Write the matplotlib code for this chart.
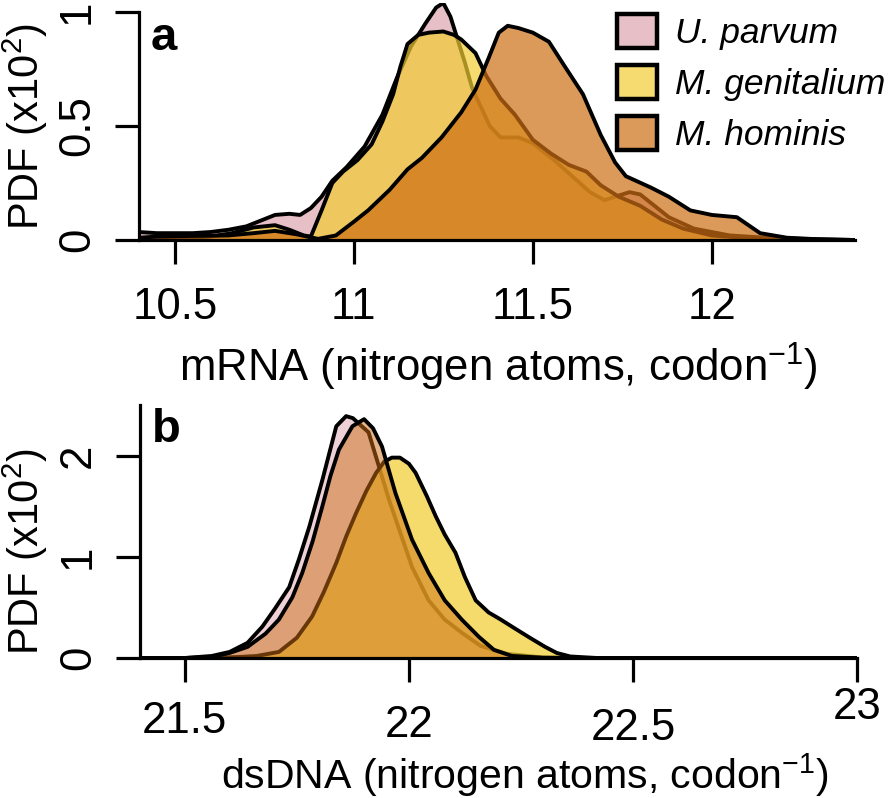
import matplotlib
matplotlib.use("Agg")
import matplotlib.pyplot as plt
from matplotlib.patches import Patch
from matplotlib import transforms

plt.rcParams['font.family'] = ['Liberation Sans', 'DejaVu Sans']

# ---------------- data ----------------
species = ["U. parvum", "M. genitalium", "M. hominis"]
colors = ["#dea5b0", "#f1cd33", "#ce6f14"]

# panel a: mRNA
mrna_up_x = [10.40, 10.45, 10.50, 10.55, 10.60, 10.65, 10.70, 10.74, 10.78, 10.82, 10.85, 10.88, 10.91, 10.94,
             10.98, 11.03, 11.08, 11.12, 11.16, 11.20, 11.23, 11.25, 11.27, 11.29, 11.31, 11.33, 11.35, 11.38,
             11.41, 11.46, 11.50, 11.56, 11.61, 11.66, 11.70, 11.73, 11.77, 11.80, 11.84, 11.88, 11.95, 12.05,
             12.15, 12.25, 12.40]
mrna_up_y = [0.035, 0.03, 0.03, 0.03, 0.035, 0.045, 0.06, 0.085, 0.11, 0.115, 0.11, 0.14, 0.19, 0.26,
             0.32, 0.41, 0.55, 0.71, 0.85, 0.95, 1.02, 1.04, 0.98, 0.88, 0.78, 0.67, 0.60, 0.50,
             0.45, 0.45, 0.425, 0.35, 0.28, 0.21, 0.175, 0.19, 0.21, 0.20, 0.15, 0.10, 0.05, 0.02,
             0.01, 0.005, 0.0]
mrna_mg_x = [10.40, 10.50, 10.60, 10.66, 10.72, 10.78, 10.82, 10.86, 10.88, 10.91, 10.94, 10.97, 11.01, 11.05,
             11.08, 11.11, 11.13, 11.15, 11.18, 11.21, 11.25, 11.28, 11.30, 11.34, 11.37, 11.41, 11.45, 11.50,
             11.55, 11.60, 11.65, 11.69, 11.74, 11.80, 11.86, 11.92, 12.00, 12.10, 12.25, 12.40]
mrna_mg_y = [0.0, 0.005, 0.015, 0.03, 0.055, 0.065, 0.045, 0.02, 0.015, 0.13, 0.25, 0.30, 0.35, 0.42,
             0.52, 0.64, 0.76, 0.86, 0.90, 0.91, 0.915, 0.90, 0.88, 0.82, 0.72, 0.62, 0.55, 0.44,
             0.38, 0.33, 0.30, 0.24, 0.19, 0.15, 0.09, 0.05, 0.02, 0.008, 0.0, 0.0]
mrna_mh_x = [10.40, 10.45, 10.55, 10.65, 10.72, 10.78, 10.84, 10.90, 10.95, 11.00, 11.04, 11.10, 11.15, 11.19,
             11.245, 11.30, 11.34, 11.377, 11.405, 11.43, 11.46, 11.50, 11.545, 11.59, 11.64, 11.69, 11.73,
             11.76, 11.83, 11.88, 11.94, 12.00, 12.07, 12.135, 12.21, 12.30, 12.40]
mrna_mh_y = [0.01, 0.015, 0.018, 0.02, 0.03, 0.04, 0.025, 0.005, 0.02, 0.08, 0.13, 0.22, 0.31, 0.36,
             0.45, 0.56, 0.66, 0.80, 0.91, 0.94, 0.93, 0.91, 0.87, 0.76, 0.64, 0.46, 0.34,
             0.28, 0.23, 0.19, 0.13, 0.11, 0.10, 0.03, 0.01, 0.003, 0.0]

# panel b: dsDNA
dna_up_x = [21.40, 21.50, 21.56, 21.60, 21.64, 21.673, 21.70, 21.733, 21.755, 21.778, 21.807, 21.838, 21.86,
            21.875, 21.91, 21.956, 22.007, 22.044, 22.08, 22.118, 22.16, 22.22, 22.30, 22.40, 23.00]
dna_up_y = [0.0, 0.0, 0.02, 0.06, 0.15, 0.31, 0.48, 0.70, 0.98, 1.30, 1.76, 2.29, 2.39,
            2.37, 2.23, 1.56, 0.90, 0.57, 0.38, 0.25, 0.12, 0.04, 0.005, 0.0, 0.0]
dna_mg_x = [21.40, 21.55, 21.62, 21.66, 21.71, 21.75, 21.784, 21.81, 21.838, 21.86, 21.882, 21.905, 21.927,
            21.945, 21.962, 21.98, 22.00, 22.015, 22.04, 22.06, 22.08, 22.104, 22.125, 22.149, 22.178, 22.205,
            22.23, 22.27, 22.304, 22.33, 22.36, 22.42, 23.00]
dna_mg_y = [0.0, 0.0, 0.01, 0.02, 0.06, 0.20, 0.41, 0.65, 0.94, 1.20, 1.43, 1.65, 1.83,
            1.94, 1.98, 1.98, 1.92, 1.83, 1.60, 1.40, 1.22, 1.04, 0.80, 0.57, 0.45, 0.38,
            0.31, 0.20, 0.11, 0.05, 0.015, 0.0, 0.0]
dna_mh_x = [21.40, 21.50, 21.56, 21.60, 21.64, 21.68, 21.71, 21.74, 21.762, 21.785, 21.807, 21.825, 21.844,
            21.874, 21.90, 21.92, 21.94, 21.97, 22.007, 22.044, 22.08, 22.118, 22.156, 22.19, 22.23, 22.30,
            22.40, 23.00]
dna_mh_y = [0.0, 0.0, 0.01, 0.05, 0.11, 0.24, 0.38, 0.60, 0.84, 1.15, 1.50, 1.80, 2.06,
            2.29, 2.36, 2.27, 2.09, 1.63, 1.17, 0.84, 0.57, 0.38, 0.21, 0.08, 0.02, 0.003,
            0.0, 0.0]

mrna_ticks = [10.5, 11, 11.5, 12]
mrna_ticklabels = ["10.5", "11", "11.5", "12"]
mrna_yticks = [0, 0.5, 1]
mrna_yticklabels = ["0", "0.5", "1"]
dna_ticks = [21.5, 22, 22.5, 23]
dna_ticklabels = ["21.5", "22", "22.5", "23"]
dna_yticks = [0, 1, 2]
dna_yticklabels = ["0", "1", "2"]

W, H = 893, 798
fig = plt.figure(figsize=(W / 100, H / 100), dpi=100)
FS = 31.5
LW = 2.3
CLW = 2.8


def px2fig(x, y):
    return x / W, 1 - y / H


def style(ax, ybounds):
    for s in ["top", "right"]:
        ax.spines[s].set_visible(False)
    for s in ["left", "bottom"]:
        ax.spines[s].set_linewidth(LW)
        ax.spines[s].set_zorder(20)
        ax.spines[s].set_capstyle("projecting")
    ax.spines["left"].set_bounds(*ybounds)
    ax.tick_params(direction="out", length=17.5, width=LW, labelsize=FS)
    ax.tick_params(axis="y", pad=12)
    ax.tick_params(axis="x", pad=16)


def draw(ax, xs, ys, alphas, order):
    z = 1
    for i in order:
        x, y = xs[i], ys[i]
        ax.fill_between(x, 0, y, facecolor=colors[i], alpha=alphas[i], lw=0, zorder=z)
        ax.plot(x, y, color="black", lw=CLW, zorder=z + 1, solid_joinstyle="round",
                solid_capstyle="round")
        z += 2


# ---- panel a ----
ax1 = fig.add_axes([139 / W, 1 - 240 / H, 716 / W, 237 / H])
ax1.set_xlim(10.4, 12.4)
ax1.set_ylim(0, 1.04)
style(ax1, (0, 1))
draw(ax1, [mrna_up_x, mrna_mg_x, mrna_mh_x], [mrna_up_y, mrna_mg_y, mrna_mh_y],
     [0.7, 0.7, 0.7], [0, 1, 2])
ax1.set_xticks(mrna_ticks)
ax1.set_xticklabels(mrna_ticklabels)
ax1.set_yticks(mrna_yticks)
ax1.set_yticklabels(mrna_yticklabels, rotation=90, va="center")
fig.text(*px2fig(151, 50), "a", fontsize=34, fontweight="bold", ha="left", va="baseline", zorder=30)

handles = [Patch(facecolor=colors[i], alpha=0.7, edgecolor="black", lw=3.2) for i in range(3)]
leg = ax1.legend(handles, species, loc="upper left", bbox_to_anchor=px2fig(617, 14),
                 bbox_transform=fig.transFigure, frameon=False, fontsize=25.5,
                 handlelength=1.13, handleheight=1.1, handletextpad=0.5, labelspacing=0.42,
                 borderaxespad=0, borderpad=0)
for t in leg.get_texts():
    t.set_style("italic")
for h, c in zip(leg.legend_handles, colors):
    h.set_alpha(None)
    h.set_facecolor(matplotlib.colors.to_rgba(c, 0.7))
    h.set_edgecolor("black")
leg.set_zorder(40)

fig.text(*px2fig(25, 127), "PDF (x10$\\mathregular{^{2}}$)", rotation=90, ha="center", va="center",
         fontsize=30)
fig.text(*px2fig(498, 382), "mRNA (nitrogen atoms, codon$\\mathregular{^{-1}}$)", ha="center",
         va="baseline", fontsize=FS)

# ---- panel b ----
ax2 = fig.add_axes([140 / W, 1 - 658 / H, 717 / W, 253 / H])
ax2.set_xlim(21.4, 23.0)
ax2.set_ylim(0, 2.5)
style(ax2, (0, 2.5))
draw(ax2, [dna_up_x, dna_mg_x, dna_mh_x], [dna_up_y, dna_mg_y, dna_mh_y],
     [0.5, 0.72, 0.5], [0, 1, 2])
ax2.set_xticks(dna_ticks)
ax2.set_xticklabels([])
ax2.set_yticks(dna_yticks)
ax2.set_yticklabels(dna_yticklabels, rotation=90, va="center")
# staggered tick labels as in the reference (baselines in pixels)
label_baselines_px = [733, 737, 740, 719]
blend = transforms.blended_transform_factory(ax2.transData, fig.transFigure)
for v, lab, ypx in zip(dna_ticks, dna_ticklabels, label_baselines_px):
    ax2.text(v, 1 - ypx / H, lab, transform=blend, ha="center", va="baseline", fontsize=FS,
             clip_on=False)
fig.text(*px2fig(152, 442), "b", fontsize=34, fontweight="bold", ha="left", va="baseline", zorder=30)

fig.text(*px2fig(25, 552), "PDF (x10$\\mathregular{^{2}}$)", rotation=90, ha="center", va="center",
         fontsize=30)
fig.text(*px2fig(525, 789), "dsDNA (nitrogen atoms, codon$\\mathregular{^{-1}}$)", ha="center",
         va="baseline", fontsize=29.5)

fig.savefig("out.png", dpi=100)
